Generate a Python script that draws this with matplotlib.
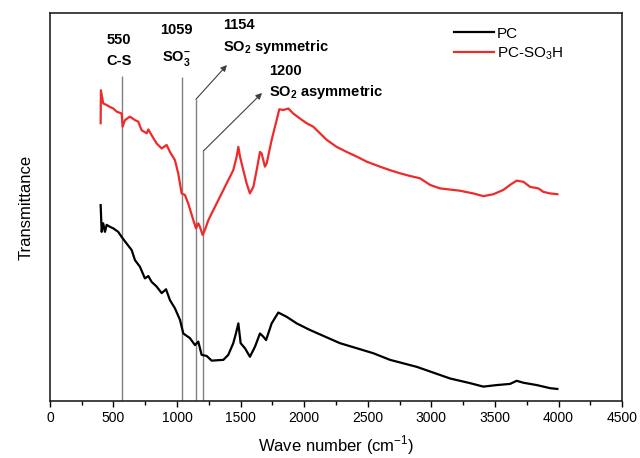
import matplotlib
matplotlib.use("Agg")
import matplotlib.pyplot as plt
from matplotlib.ticker import MultipleLocator

plt.rcParams['font.family'] = ['Liberation Sans', 'DejaVu Sans']
plt.rcParams['mathtext.fontset'] = 'custom'
plt.rcParams['mathtext.rm'] = 'Liberation Sans'
plt.rcParams['mathtext.bf'] = 'Liberation Sans:bold'

# PC-SO3H spectrum (red)
red_wn = [399, 401, 419, 446, 472, 498, 525, 564, 572, 590,
          629, 669, 695, 721, 761, 774, 800, 839, 879, 918,
          944, 983, 1009, 1036, 1062, 1088, 1128, 1149, 1167, 1180,
          1201, 1219, 1246, 1285, 1337, 1390, 1442, 1469, 1482, 1495,
          1521, 1547, 1573, 1600, 1626, 1652, 1665, 1691, 1705, 1744,
          1783, 1804, 1836, 1875, 1914, 1967, 2019, 2071, 2124, 2177,
          2255, 2334, 2413, 2491, 2596, 2675, 2753, 2832, 2911, 2990,
          3068, 3225, 3330, 3409, 3488, 3566, 3619, 3671, 3724, 3776,
          3842, 3881, 3934, 3991]
red_val = [71.6, 80.1, 76.7, 76.3, 75.8, 75.4, 74.6, 74.1, 70.7, 72.4,
           73.3, 72.4, 72.0, 69.8, 69.0, 70.0, 68.5, 66.4, 65.1, 66.0,
           64.2, 62.1, 58.7, 53.5, 53.1, 50.9, 46.6, 44.5, 45.8, 44.9,
           42.8, 44.1, 46.6, 49.2, 52.6, 56.1, 59.5, 63.0, 65.5, 63.0,
           59.5, 56.1, 53.5, 55.2, 59.5, 64.2, 63.8, 60.4, 61.3, 67.3,
           72.4, 75.2, 75.0, 75.4, 74.1, 72.8, 71.6, 70.7, 69.0, 67.3,
           65.5, 64.2, 63.0, 61.7, 60.4, 59.5, 58.7, 58.0, 57.4, 55.7,
           54.8, 54.2, 53.5, 52.8, 53.3, 54.4, 55.7, 56.8, 56.5, 55.2,
           54.8, 53.9, 53.5, 53.3]

# PC spectrum (black)
pc_wn = [399, 407, 419, 433, 446, 472, 498, 537, 564, 603,
         643, 669, 708, 747, 774, 800, 839, 879, 913, 944,
         983, 1023, 1049, 1101, 1141, 1167, 1193, 1233, 1272, 1364,
         1403, 1442, 1463, 1482, 1500, 1534, 1573, 1613, 1652, 1678,
         1700, 1744, 1796, 1862, 1941, 2045, 2163, 2281, 2413, 2544,
         2675, 2885, 2990, 3147, 3304, 3409, 3514, 3619, 3671, 3724,
         3829, 3934, 3991]
pc_val = [50.5, 43.6, 45.8, 43.6, 45.4, 44.9, 44.5, 43.6, 42.3, 40.6,
          38.9, 36.3, 34.6, 31.6, 32.2, 30.7, 29.5, 27.8, 28.8, 26.0,
          23.9, 20.9, 17.4, 16.2, 14.4, 15.3, 11.9, 11.6, 10.4, 10.6,
          11.9, 14.9, 17.4, 20.0, 14.9, 13.6, 11.4, 14.0, 17.4, 16.6,
          15.7, 20.0, 22.8, 21.7, 20.0, 18.3, 16.6, 14.9, 13.6, 12.3,
          10.6, 8.8, 7.6, 5.8, 4.6, 3.7, 4.1, 4.4, 5.2, 4.7,
          4.1, 3.3, 3.1]

# band markers: drawn position and top of each vertical line
band_wn = [566, 1036, 1149, 1206]
band_top = [83.8, 83.5, 77.8, 64.4]

fig = plt.figure(figsize=(6.4, 4.58), dpi=100)
ax = fig.add_axes([0.078, 0.1245, 0.894, 0.847])

ax.vlines(band_wn, 0, band_top, color='#808080', lw=1.0, zorder=1)
ax.plot(pc_wn, pc_val, color='black', lw=1.6, label='PC', zorder=3)
ax.plot(red_wn, red_val, color='#ee2b2b', lw=1.6, label='PC-SO$_3$H', zorder=3)

# labels
ax.text(543, 93.0, '550', ha='center', va='center', fontsize=10.5, fontweight='bold')
ax.text(543, 87.6, 'C-S', ha='center', va='center', fontsize=10.5, fontweight='bold')
ax.text(991, 95.6, '1059', ha='center', va='center', fontsize=10.5, fontweight='bold')
ax.text(991, 88.4, r'SO$_\mathbf{3}^\mathbf{-}$', ha='center', va='center',
        fontsize=10.5, fontweight='bold')
ax.text(1361, 96.9, '1154', ha='left', va='center', fontsize=10.5, fontweight='bold')
ax.text(1361, 91.2, r'SO$_\mathbf{2}$ symmetric', ha='left', va='center',
        fontsize=10.5, fontweight='bold')
ax.text(1723, 85.0, '1200', ha='left', va='center', fontsize=10.5, fontweight='bold')
ax.text(1723, 79.6, r'SO$_\mathbf{2}$ asymmetric', ha='left', va='center',
        fontsize=10.5, fontweight='bold')

arrow = dict(arrowstyle='-|>', color='#404040', lw=0.8, mutation_scale=9,
             shrinkA=0, shrinkB=0)
ax.annotate('', xy=(1392, 86.6), xytext=(1149, 77.8), arrowprops=arrow)
ax.annotate('', xy=(1668, 79.4), xytext=(1206, 64.4), arrowprops=arrow)

ax.set_xlim(0, 4500)
ax.set_ylim(0, 100)
ax.xaxis.set_major_locator(MultipleLocator(500))
ax.xaxis.set_minor_locator(MultipleLocator(250))
ax.tick_params(axis='x', which='major', direction='out', length=4, width=1.0, labelsize=10)
ax.tick_params(axis='x', which='minor', direction='out', length=3, width=1.0)
ax.set_yticks([])
for s in ax.spines.values():
    s.set_linewidth(1.2)
    s.set_color('#222222')

ax.set_xlabel('Wave number (cm$^{-1}$)', fontsize=12, labelpad=6)
ax.set_ylabel('Transmittance', fontsize=12, labelpad=12)

ax.legend(loc='upper right', bbox_to_anchor=(0.922, 1.0), frameon=False, fontsize=11,
          handlelength=2.6, handletextpad=0.2, labelspacing=0.3)

fig.savefig('out.png', dpi=100)
